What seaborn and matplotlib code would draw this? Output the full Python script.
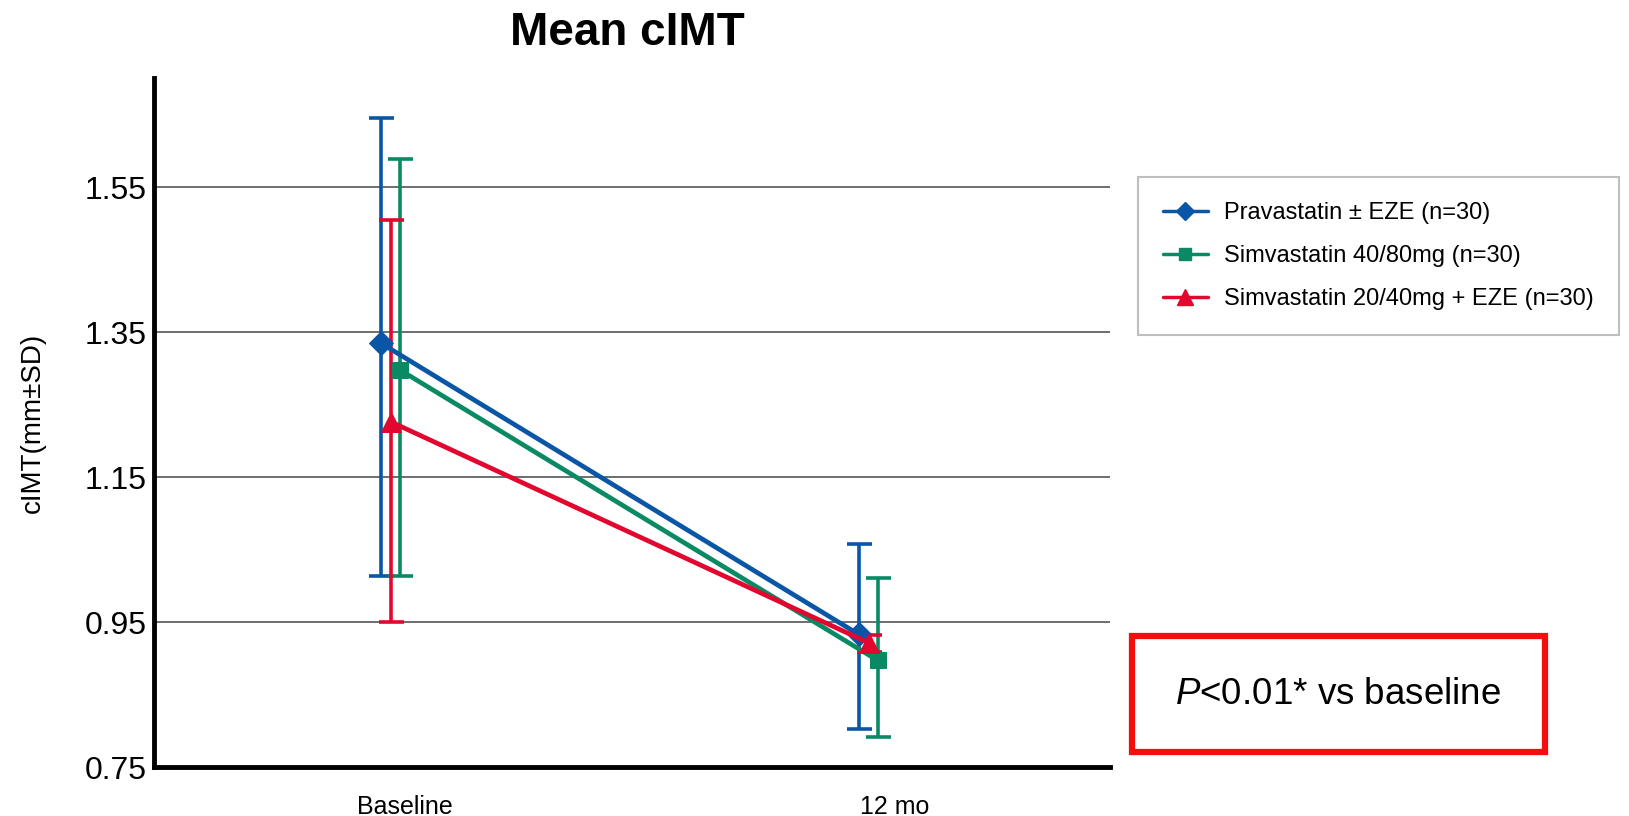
import numpy as np
import pandas as pd
import seaborn as sns
import matplotlib.pyplot as plt
from matplotlib.patches import Rectangle
from matplotlib.lines import Line2D

# ---- data ----
timepoints = ["Baseline", "12 mo"]
groups = ["Pravastatin \u00b1 EZE (n=30)",
          "Simvastatin 40/80mg (n=30)",
          "Simvastatin 20/40mg + EZE (n=30)"]
mean_prava = [1.335, 0.933]
low_prava = [1.013, 0.802]
high_prava = [1.645, 1.057]
mean_simva = [1.298, 0.897]
low_simva = [1.013, 0.791]
high_simva = [1.589, 1.011]
mean_combo = [1.226, 0.921]
low_combo = [0.950, 0.909]
high_combo = [1.505, 0.932]
yticks = [0.75, 0.95, 1.15, 1.35, 1.55]

colors = ["#0a56a6", "#0a8a64", "#e2072f"]
markers = ["D", "s", "^"]
msizes = [12, 12, 14]
offsets = [0.0, 0.04, 0.022]

sns.set_theme(style="white")
plt.rcParams['font.family'] = ['Liberation Sans', 'DejaVu Sans']
plt.rcParams['mathtext.fontset'] = 'custom'
plt.rcParams['mathtext.it'] = 'Liberation Sans:italic'
plt.rcParams['mathtext.rm'] = 'Liberation Sans'
plt.rcParams['text.color'] = 'black'
plt.rcParams['axes.labelcolor'] = 'black'
plt.rcParams['xtick.color'] = 'black'
plt.rcParams['ytick.color'] = 'black'

fig = plt.figure(figsize=(16.29, 8.16), dpi=100)
ax = fig.add_axes([0.0945, 0.060, 0.587, 0.844])

means = [mean_prava, mean_simva, mean_combo]
lows = [low_prava, low_simva, low_combo]
highs = [high_prava, high_simva, high_combo]

rows = []
for g, m in zip(groups, means):
    for i, t in enumerate(timepoints):
        rows.append({"group": g, "time": i, "value": m[i]})
df = pd.DataFrame(rows)

# error bars first
for k, g in enumerate(groups):
    x = np.arange(len(timepoints)) + offsets[k]
    m = np.array(means[k]); lo = np.array(lows[k]); hi = np.array(highs[k])
    ax.errorbar(x, m, yerr=[m - lo, hi - m], fmt='none', ecolor=colors[k],
                elinewidth=2.6, capsize=9, capthick=2.6, zorder=3)

for k, g in enumerate(groups):
    sub = df[df["group"] == g].copy()
    sub["xpos"] = sub["time"] + offsets[k]
    sns.lineplot(data=sub, x="xpos", y="value", ax=ax, color=colors[k],
                 linewidth=3.4, marker=markers[k], markersize=msizes[k],
                 markeredgecolor=colors[k], legend=False, zorder=4 + k)

ax.set_xlim(-0.474, 1.526)
ax.set_ylim(0.75, 1.70)
ax.set_yticks(yticks)
ax.set_yticklabels([f"{v:.2f}" for v in yticks], fontsize=23)
ax.set_xticks([0.05, 1.075])
ax.set_xticklabels(timepoints, fontsize=18)
ax.tick_params(axis='both', length=0)
ax.tick_params(axis='x', pad=20)
ax.tick_params(axis='y', pad=5)
ax.set_xlabel("")
ax.set_ylabel("cIMT(mm\u00b1SD)", fontsize=20)
ax.yaxis.set_label_coords(-0.113, 0.5)
ax.yaxis.grid(True, color="#555555", linewidth=1.2)
ax.xaxis.grid(False)
ax.set_axisbelow(True)
for s in ["top", "right"]:
    ax.spines[s].set_visible(False)
for s in ["left", "bottom"]:
    ax.spines[s].set_color("black")
    ax.spines[s].set_linewidth(3.5)

fig.text(0.385, 0.960, "Mean cIMT", ha="center", va="center",
         fontsize=33, fontweight="bold", color="black")

handles = [Line2D([0], [0], color=colors[k], lw=2.5, marker=markers[k],
                  markersize=msizes[k] - 3, markeredgecolor=colors[k])
           for k in range(3)]
leg = fig.legend(handles, groups, loc="upper left",
                 bbox_to_anchor=(0.6986, 0.783), fontsize=17,
                 frameon=True, fancybox=False, edgecolor="#b0b0b0",
                 borderpad=1.05, labelspacing=0.9, handlelength=1.9,
                 handletextpad=0.7, borderaxespad=0)
leg.get_frame().set_linewidth(1.5)

fig.patches.append(Rectangle((0.695, 0.0784), 0.2535, 0.142,
                             transform=fig.transFigure, fill=False,
                             edgecolor="#f40f0f", linewidth=4.5))
fig.text(0.8214, 0.1495, "$P$<0.01* vs baseline", ha="center", va="center",
         fontsize=26.5, color="black")

fig.savefig("out.png", dpi=100)
